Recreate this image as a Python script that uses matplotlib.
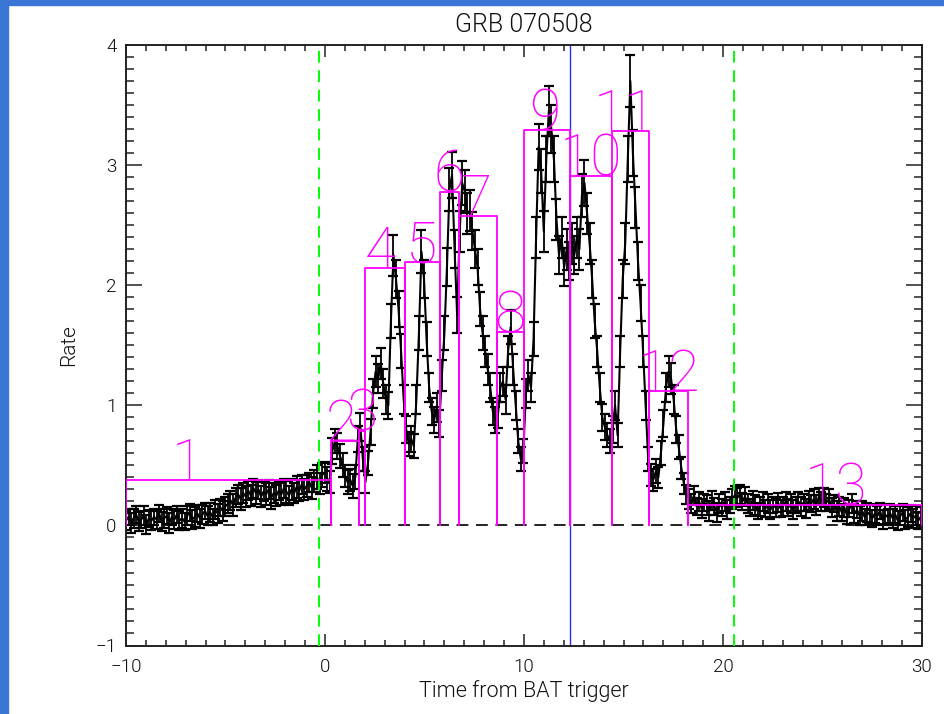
import numpy as np
import matplotlib
matplotlib.use("Agg")
import matplotlib.pyplot as plt
from matplotlib.patches import Rectangle
from matplotlib.ticker import MultipleLocator

plt.rcParams['lines.scale_dashes'] = False

# Light curve: count rate in 0.128 s bins starting at t = -10 s
t_start = -10.0
bin_width = 0.128

rate = [
    0.04, 0.07, 0.02, 0.06, 0.09, 0.03, 0.05, 0.08, 0.01, 0.06,
    0.04, 0.07, 0.05, 0.10, 0.03, 0.06, 0.08, 0.02, 0.07, 0.05,
    0.09, 0.04, 0.06, 0.03, 0.08, 0.11, 0.05, 0.07, 0.10, 0.06,
    0.09, 0.12, 0.08, 0.11, 0.07, 0.13, 0.10, 0.15, 0.12, 0.16,
    0.18, 0.21, 0.17, 0.23, 0.26, 0.22, 0.27, 0.24, 0.29, 0.25,
    0.31, 0.27, 0.30, 0.24, 0.28, 0.26, 0.30, 0.23, 0.27, 0.25,
    0.29, 0.26, 0.31, 0.28, 0.25, 0.30, 0.27, 0.32, 0.29, 0.34,
    0.30, 0.33, 0.36, 0.31, 0.37, 0.40, 0.35, 0.42, 0.44, 0.39,
    0.36, 0.62, 0.70, 0.66, 0.58, 0.50, 0.41, 0.36, 0.38, 0.33,
    0.40, 0.72, 0.82, 0.55, 0.36, 0.52, 0.78, 1.10, 1.28, 1.22,
    1.35, 1.18, 1.05, 1.00, 1.70, 2.25, 2.05, 1.80, 1.45, 1.05,
    0.80, 0.68, 0.72, 0.66, 1.05, 1.60, 2.28, 2.05, 1.55, 1.15,
    0.95, 0.88, 0.98, 0.85, 1.25, 1.60, 2.15, 2.80, 2.92, 2.30,
    1.75, 2.45, 2.85, 2.78, 2.60, 2.62, 2.45, 2.30, 2.15, 1.80,
    1.60, 1.45, 1.30, 1.15, 0.95, 0.88, 0.92, 1.15, 1.20, 1.05,
    1.45, 1.65, 1.30, 1.00, 0.70, 0.55, 0.62, 1.10, 1.25, 1.15,
    1.55, 2.40, 3.15, 2.95, 2.45, 3.05, 3.45, 3.30, 3.05, 2.55,
    2.25, 2.40, 2.15, 2.30, 2.20, 2.35, 2.25, 2.40, 2.30, 2.75,
    2.85, 2.60, 2.35, 2.05, 1.70, 1.45, 1.15, 0.90, 0.82, 0.75,
    0.70, 0.80, 1.00, 0.75, 1.45, 2.05, 2.35, 3.05, 3.70, 3.10,
    2.65, 2.20, 1.85, 1.45, 1.00, 0.55, 0.42, 0.38, 0.45, 0.40,
    0.60, 0.85, 1.15, 1.28, 1.22, 1.05, 0.80, 0.65, 0.48, 0.35,
    0.26, 0.22, 0.18, 0.25, 0.16, 0.20, 0.14, 0.19, 0.17, 0.12,
    0.21, 0.16, 0.11, 0.18, 0.15, 0.20, 0.13, 0.17, 0.22, 0.25,
    0.23, 0.26, 0.20, 0.24, 0.18, 0.15, 0.21, 0.17, 0.12, 0.16,
    0.20, 0.14, 0.18, 0.13, 0.17, 0.15, 0.19, 0.14, 0.16, 0.20,
    0.15, 0.18, 0.13, 0.17, 0.20, 0.16, 0.19, 0.14, 0.21, 0.18,
    0.22, 0.17, 0.24, 0.20, 0.23, 0.19, 0.22, 0.15, 0.18, 0.12,
    0.16, 0.11, 0.15, 0.09, 0.14, 0.18, 0.10, 0.13, 0.08, 0.12,
    0.07, 0.11, 0.09, 0.06, 0.10, 0.08, 0.12, 0.05, 0.09, 0.07,
    0.10, 0.06, 0.09, 0.04, 0.08, 0.11, 0.05, 0.07, 0.10, 0.06,
    0.08, 0.04, 0.07,
]

rate_err = [
    0.08, 0.07, 0.08, 0.08, 0.07, 0.08, 0.07, 0.08, 0.08, 0.07,
    0.08, 0.07, 0.08, 0.07, 0.08, 0.08, 0.07, 0.08, 0.07, 0.08,
    0.07, 0.08, 0.08, 0.07, 0.08, 0.07, 0.08, 0.08, 0.07, 0.08,
    0.08, 0.07, 0.08, 0.08, 0.07, 0.08, 0.08, 0.07, 0.08, 0.08,
    0.08, 0.08, 0.09, 0.08, 0.08, 0.09, 0.08, 0.09, 0.08, 0.09,
    0.08, 0.09, 0.08, 0.09, 0.08, 0.09, 0.08, 0.09, 0.08, 0.09,
    0.08, 0.09, 0.08, 0.09, 0.08, 0.09, 0.08, 0.09, 0.09, 0.08,
    0.09, 0.09, 0.08, 0.09, 0.09, 0.10, 0.09, 0.10, 0.09, 0.10,
    0.09, 0.11, 0.10, 0.11, 0.10, 0.10, 0.09, 0.10, 0.09, 0.10,
    0.10, 0.11, 0.12, 0.10, 0.09, 0.10, 0.11, 0.12, 0.13, 0.12,
    0.13, 0.12, 0.12, 0.11, 0.14, 0.17, 0.16, 0.15, 0.14, 0.12,
    0.11, 0.10, 0.11, 0.10, 0.12, 0.14, 0.18, 0.16, 0.14, 0.12,
    0.11, 0.11, 0.12, 0.11, 0.13, 0.14, 0.16, 0.18, 0.19, 0.16,
    0.15, 0.17, 0.18, 0.18, 0.17, 0.17, 0.16, 0.16, 0.15, 0.14,
    0.14, 0.13, 0.13, 0.12, 0.11, 0.11, 0.11, 0.12, 0.12, 0.12,
    0.13, 0.14, 0.13, 0.12, 0.10, 0.10, 0.10, 0.12, 0.13, 0.12,
    0.14, 0.17, 0.19, 0.18, 0.17, 0.19, 0.21, 0.20, 0.19, 0.17,
    0.16, 0.17, 0.16, 0.17, 0.16, 0.17, 0.16, 0.17, 0.17, 0.18,
    0.19, 0.17, 0.17, 0.16, 0.14, 0.13, 0.12, 0.11, 0.11, 0.10,
    0.10, 0.11, 0.12, 0.10, 0.13, 0.16, 0.17, 0.19, 0.22, 0.19,
    0.17, 0.16, 0.15, 0.13, 0.12, 0.10, 0.09, 0.09, 0.10, 0.09,
    0.10, 0.11, 0.12, 0.13, 0.13, 0.12, 0.11, 0.10, 0.09, 0.09,
    0.08, 0.08, 0.08, 0.08, 0.07, 0.08, 0.08, 0.07, 0.08, 0.08,
    0.08, 0.07, 0.08, 0.08, 0.07, 0.08, 0.08, 0.07, 0.08, 0.08,
    0.08, 0.08, 0.07, 0.08, 0.08, 0.07, 0.08, 0.08, 0.07, 0.08,
    0.08, 0.07, 0.08, 0.08, 0.07, 0.08, 0.08, 0.07, 0.08, 0.08,
    0.07, 0.08, 0.08, 0.07, 0.08, 0.08, 0.07, 0.08, 0.08, 0.07,
    0.08, 0.08, 0.07, 0.08, 0.08, 0.07, 0.08, 0.08, 0.07, 0.08,
    0.08, 0.07, 0.08, 0.08, 0.07, 0.08, 0.08, 0.07, 0.08, 0.08,
    0.07, 0.08, 0.08, 0.07, 0.08, 0.08, 0.07, 0.08, 0.08, 0.07,
    0.08, 0.08, 0.07, 0.08, 0.08, 0.07, 0.08, 0.08, 0.07, 0.08,
    0.08, 0.07, 0.08,
]

# Bayesian blocks: edges (s) and block rates
block_edges = [-10.0, 0.30, 1.72, 2.01, 4.04, 5.80, 6.72, 8.66,
               10.00, 12.32, 14.43, 16.28, 18.24, 30.0]
block_heights = [0.375, 0.70, 0.79, 2.14, 2.19, 2.78, 2.58, 1.61,
                 3.29, 2.91, 3.28, 1.12, 0.17]
block_label_x = [-6.93, 0.82, 1.82, 2.78, 4.84, 6.25, 7.60, 9.27,
                 11.03, 13.35, 15.10, 17.30, 25.70]

# Duration window (green) and marked time (blue)
window_edges = [-0.29, 20.54]
marker_time = 12.33

title = "GRB 070508"
xlabel = "Time from BAT trigger"
ylabel = "Rate"

W, H = 945, 714
fig = plt.figure(figsize=(W / 100, H / 100), dpi=100)
fig.patch.set_facecolor("white")

# blue frame strips along the left and top edges
border = "#3a76d6"
fig.patches.append(Rectangle((0, 0), 8 / W, 1, transform=fig.transFigure,
                             color=border, zorder=0))
fig.patches.append(Rectangle((0, 1 - 5 / H), 1, 5 / H, transform=fig.transFigure,
                             color=border, zorder=0))

ax_l, ax_r, ax_t, ax_b = 126, 922, 45, 645.5
ax = fig.add_axes([ax_l / W, 1 - ax_b / H, (ax_r - ax_l) / W, (ax_b - ax_t) / H])
ax.set_facecolor("white")

t = t_start + bin_width * np.arange(len(rate))

ax.axvline(marker_time, color="#2a2aff", lw=1.0, zorder=1)
ax.axhline(0, color="#222222", lw=1.4, ls=(0, (8.5, 5.5)), zorder=1)

ax.plot(t, rate, color="black", lw=1.5, zorder=2)
ax.errorbar(t, rate, yerr=rate_err, fmt="none", ecolor="black",
            elinewidth=1.3, capsize=3.8, capthick=1.6, zorder=2)

for x in window_edges:
    ax.axvline(x, color="#00ff00", lw=1.4, ls=(0, (8.5, 5.5)), zorder=3)

magenta = "#ff00ff"
label_font = ["Roboto", "DejaVu Sans"]
for k, h in enumerate(block_heights):
    x0, x1 = block_edges[k], block_edges[k + 1]
    ax.plot([x0, x0, x1, x1], [0, h, h, 0], color=magenta, lw=1.3, zorder=4)
    ax.text(block_label_x[k], h, str(k + 1), color=magenta, ha="center",
            va="baseline", fontsize=41, family=label_font, fontweight=100,
            fontstretch="condensed", zorder=5)

ax.set_xlim(-10, 30)
ax.set_ylim(-1, 4)
ax.xaxis.set_major_locator(MultipleLocator(10))
ax.xaxis.set_minor_locator(MultipleLocator(1))
ax.yaxis.set_major_locator(MultipleLocator(1))
ax.yaxis.set_minor_locator(MultipleLocator(0.1))

ax.tick_params(which="both", direction="in", top=True, right=True,
               color="#222222", width=1.1)
ax.tick_params(axis="x", which="major", length=8.6, pad=9)
ax.tick_params(axis="x", which="minor", length=4.3)
ax.tick_params(axis="y", which="major", length=11.5, pad=7)
ax.tick_params(axis="y", which="minor", length=5.8)
for s in ax.spines.values():
    s.set_linewidth(1.4)
    s.set_color("#222222")

text_font = ["Roboto", "DejaVu Sans"]
for lab in ax.get_xticklabels() + ax.get_yticklabels():
    lab.set_fontsize(13.5)
    lab.set_family(text_font)
    lab.set_fontweight(300)
    lab.set_color("#111111")

ax.set_xlabel(xlabel, fontsize=15.5, family=text_font, fontweight=300,
              color="#111111", labelpad=3)
ax.set_ylabel(ylabel, fontsize=15, family=text_font, fontweight=300,
              color="#111111", labelpad=12)
ax.set_title(title, fontsize=18, family=text_font, fontweight=300,
             color="#111111", pad=9)

fig.savefig("out.png", dpi=100, facecolor=fig.get_facecolor())
